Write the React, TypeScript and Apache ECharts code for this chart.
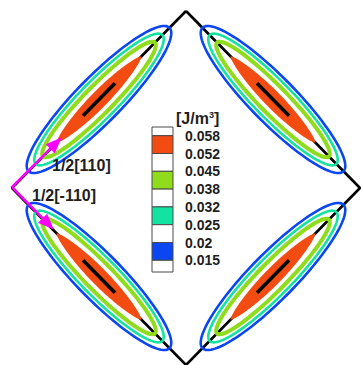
import React, { useEffect, useRef } from "react";
import * as echarts from "echarts";

// Dislocation loop (diamond) vertices, in nm-like data units
const loopVertices: number[][] = [
  [0, 100],
  [100, 0],
  [0, -100],
  [-100, 0],
];

// Contour bands drawn around each dislocation segment (outer -> inner)
const contourBands = ["0.015-0.02", "0.025-0.032", "0.038-0.045", "0.052-0.058"];
const contourSemiMajor = [57.3, 51.5, 45.5, 34.5];
const contourSemiMinor = [13.0, 10.8, 8.0, 4.8];
const coreHalfLength = 13;

// Burgers vectors
const burgersLabels = ["1/2[110]", "1/2[-110]"];
const burgersOrigin = [-100, 0.5];
const burgersTips: number[][] = [
  [-71.5, 28.5],
  [-76, -23.5],
];
const burgersLabelAnchors: number[][] = [
  [-77, 12.5],
  [-88.5, -4.5],
];

// Colour legend
const legendTicks = ["0.058", "0.052", "0.045", "0.038", "0.032", "0.025", "0.02", "0.015"];
const legendUnit = "[J/m";
const legendUnitExp = "3";

const BAND_COLORS = ["#0a46f2", "#12e3a0", "#8fdc1c", "#f24c12"];
const BAND_WIDTHS = [2.6, 2.6, 4, 0];
const FONT = "'Liberation Sans', Arial, sans-serif";
const TEXT_COLOR = "#1e1e1e";

export default function App() {
  const ref = useRef<HTMLDivElement>(null);

  useEffect(() => {
    if (!ref.current) return;
    const chart = echarts.init(ref.current, undefined, { renderer: "svg" });

    const segments = loopVertices.map((p, i) => {
      const q = loopVertices[(i + 1) % loopVertices.length];
      const cx = (p[0] + q[0]) / 2;
      const cy = (p[1] + q[1]) / 2;
      const ang = Math.atan2(q[1] - p[1], q[0] - p[0]);
      return [cx, cy, ang];
    });

    const ellipsePoints = (api: any, cx: number, cy: number, ang: number, a: number, b: number, pointed: boolean) => {
      const pts: number[][] = [];
      const c = Math.cos(ang);
      const s = Math.sin(ang);
      const n = 120;
      for (let i = 0; i < n; i++) {
        const t = (i / n) * Math.PI * 2;
        const u = a * Math.cos(t);
        const st = Math.sin(t);
        const v = pointed ? b * Math.sign(st) * Math.pow(Math.abs(st), 1.4) : b * st;
        pts.push(api.coord([cx + u * c - v * s, cy + u * s + v * c]));
      }
      return pts;
    };

    // Legend geometry
    const boxX = 152;
    const boxW = 21;
    const boxTop = 127;
    const firstTickY = 135.7;
    const step = 17.8;
    const boxBottom = 272;
    const cellFills = ["#ffffff", BAND_COLORS[3], "#ffffff", BAND_COLORS[2], "#ffffff", BAND_COLORS[1], "#ffffff", BAND_COLORS[0], "#ffffff"];
    const legendGraphics: any[] = [];
    const edges = [boxTop, ...legendTicks.map((_, k) => firstTickY + step * k), boxBottom];
    for (let k = 0; k < edges.length - 1; k++) {
      legendGraphics.push({
        type: "rect",
        shape: { x: boxX, y: edges[k], width: boxW, height: edges[k + 1] - edges[k] },
        style: { fill: cellFills[k], stroke: "#4a4a4a", lineWidth: 1 },
        z: 10,
      });
    }
    legendTicks.forEach((t, k) => {
      legendGraphics.push({
        type: "text",
        x: 185,
        y: firstTickY + step * k,
        style: {
          text: t,
          fill: TEXT_COLOR,
          fontSize: 14,
          fontWeight: "bold",
          fontFamily: FONT,
          align: "left",
          verticalAlign: "middle",
          textAlign: "left",
          textVerticalAlign: "middle",
        },
        z: 10,
      });
    });
    legendGraphics.push({
      type: "text",
      x: 176,
      y: 118,
      style: {
        text: `{b|${legendUnit}}{s|${legendUnitExp}}{b|]}`,
        fill: TEXT_COLOR,
        fontFamily: FONT,
        align: "left",
        verticalAlign: "middle",
        textAlign: "left",
        textVerticalAlign: "middle",
        rich: {
          b: { fontSize: 16, fontWeight: "bold", fontFamily: FONT, fill: TEXT_COLOR, verticalAlign: "bottom" },
          s: { fontSize: 9, fontWeight: "bold", fontFamily: FONT, fill: TEXT_COLOR, verticalAlign: "top", padding: [0, 0, 6, 0] },
        },
      },
      z: 10,
    });

    const option: any = {
      animation: false,
      backgroundColor: "#ffffff",
      grid: { left: 12, top: 11, width: 348, height: 356 },
      xAxis: { type: "value", min: -100, max: 100, show: false },
      yAxis: { type: "value", min: -100, max: 100, show: false },
      graphic: legendGraphics,
      series: [
        {
          type: "line",
          data: [...loopVertices, loopVertices[0]],
          symbol: "none",
          lineStyle: { color: "#000000", width: 2.6 },
          z: 1,
          silent: true,
        },
        {
          type: "custom",
          data: segments,
          z: 2,
          silent: true,
          renderItem: (params: any, api: any) => {
            const cx = api.value(0);
            const cy = api.value(1);
            const ang = api.value(2);
            const children: any[] = [];
            contourBands.forEach((_, k) => {
              const pointed = k === contourBands.length - 1;
              const pts = ellipsePoints(api, cx, cy, ang, contourSemiMajor[k], contourSemiMinor[k], pointed);
              children.push({
                type: "polygon",
                shape: { points: pts },
                style: pointed
                  ? { fill: BAND_COLORS[k], stroke: "none" }
                  : { fill: "none", stroke: BAND_COLORS[k], lineWidth: BAND_WIDTHS[k] },
              });
            });
            const c = Math.cos(ang);
            const s = Math.sin(ang);
            const p1 = api.coord([cx - coreHalfLength * c, cy - coreHalfLength * s]);
            const p2 = api.coord([cx + coreHalfLength * c, cy + coreHalfLength * s]);
            children.push({
              type: "line",
              shape: { x1: p1[0], y1: p1[1], x2: p2[0], y2: p2[1] },
              style: { stroke: "#000000", lineWidth: 3.5 },
            });
            return { type: "group", children };
          },
        },
        {
          type: "custom",
          data: burgersTips.map((t, i) => [t[0], t[1], i]),
          z: 5,
          silent: true,
          renderItem: (params: any, api: any) => {
            const i = api.value(2);
            const start = api.coord(burgersOrigin);
            const tip = api.coord([api.value(0), api.value(1)]);
            const dx = tip[0] - start[0];
            const dy = tip[1] - start[1];
            const len = Math.sqrt(dx * dx + dy * dy);
            const ux = dx / len;
            const uy = dy / len;
            const headLen = 16;
            const headHalf = 6.5;
            const bx = tip[0] - ux * headLen;
            const by = tip[1] - uy * headLen;
            const lab = api.coord(burgersLabelAnchors[i]);
            return {
              type: "group",
              children: [
                {
                  type: "line",
                  shape: { x1: start[0], y1: start[1], x2: bx, y2: by },
                  style: { stroke: "#ff00ff", lineWidth: 2.6 },
                },
                {
                  type: "polygon",
                  shape: {
                    points: [
                      [tip[0], tip[1]],
                      [bx - uy * headHalf, by + ux * headHalf],
                      [bx + uy * headHalf, by - ux * headHalf],
                    ],
                  },
                  style: { fill: "#ff00ff", stroke: "none" },
                },
                {
                  type: "text",
                  x: lab[0],
                  y: lab[1],
                  style: {
                    text: burgersLabels[i],
                    fill: TEXT_COLOR,
                    fontSize: 16,
                    fontWeight: "bold",
                    fontFamily: FONT,
                    align: "left",
                    verticalAlign: "middle",
                    textAlign: "left",
                    textVerticalAlign: "middle",
                  },
                },
              ],
            };
          },
        },
      ],
    };

    chart.setOption(option);
    return () => chart.dispose();
  }, []);

  return (
    <div
      ref={ref}
      style={{ position: "fixed", left: 0, top: 0, width: 362, height: 365, background: "#fff" }}
    />
  );
}
